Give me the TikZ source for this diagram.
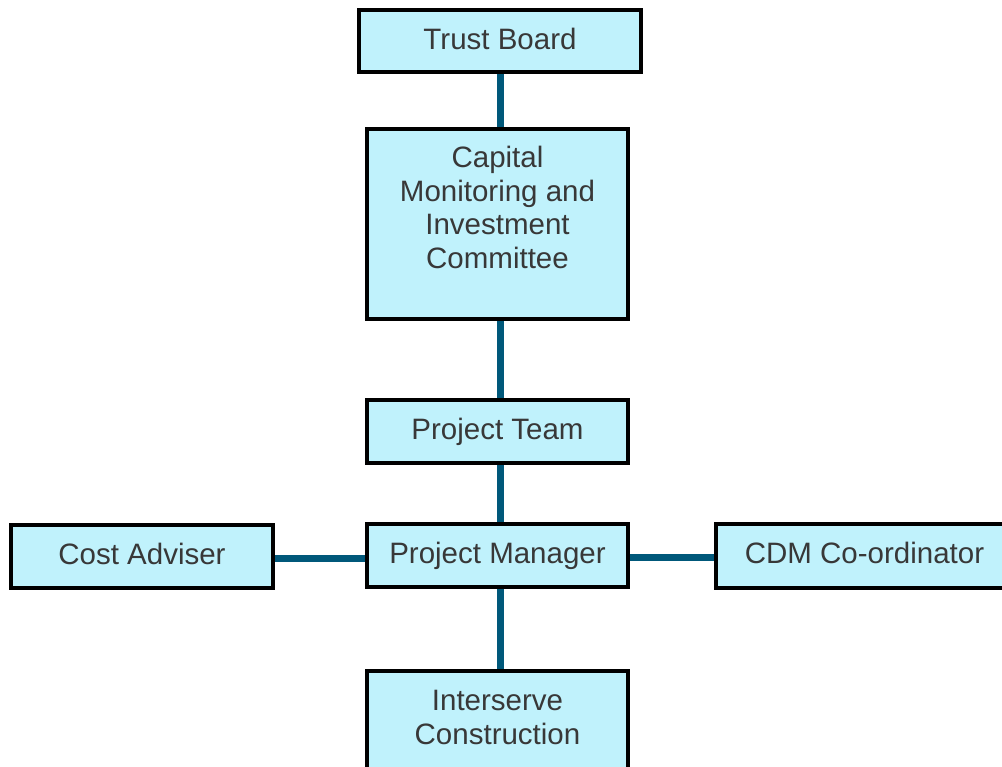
\documentclass[tikz,border=0pt]{standalone}
\usepackage{fontspec}
\setmainfont{Liberation Sans}
\usetikzlibrary{backgrounds}
\definecolor{boxfill}{HTML}{C0F2FC}
\definecolor{linkcol}{HTML}{00587A}
\definecolor{inkcol}{HTML}{383838}
\tikzset{
  orgbox/.style={draw=black, line width=4pt, fill=boxfill, rectangle,
    inner sep=0pt, minimum width=261pt, minimum height=63pt},
  boxtext/.style={text=inkcol, align=center, inner sep=0pt, anchor=base,
    font=\fontsize{29.5pt}{33.5pt}\selectfont},
  link/.style={draw=linkcol, line width=7pt}
}
\begin{document}
\begin{tikzpicture}[x=1pt, y=-1pt]
  \useasboundingbox (0,0) rectangle (1002,767);
  \clip (0,0) rectangle (1002,767);

  % boxes (path coordinates, y grows downwards)
  \node[orgbox, minimum width=282pt, minimum height=62pt] (tb) at (500,41) {};
  \node[orgbox, minimum height=190pt] (cmic) at (497.5,224) {};
  \node[orgbox] (pt) at (497.5,431.5) {};
  \node[orgbox] (pm) at (497.5,555.5) {};
  \node[orgbox, minimum width=262pt] (ca) at (142,556.5) {};
  \node[orgbox, minimum width=297pt, minimum height=64pt] (cdm) at (864.5,556) {};
  \node[orgbox, minimum height=190pt] (ic) at (497.5,766) {};

  % labels; the base anchor of a multi-line label sits on its last line
  \node[boxtext] (tb-t) at ([yshift=-41.5pt]tb.north) {Trust Board};
  \node[boxtext, font=\fontsize{29.5pt}{33.5pt}\selectfont] (cmic-t)
    at ([yshift=-141.5pt]cmic.north) {Capital\\Monitoring and\\Investment\\Committee};
  \node[boxtext] (pt-t) at ([yshift=-41.5pt]pt.north) {Project Team};
  \node[boxtext] (pm-t) at ([yshift=-41.5pt]pm.north) {Project Manager};
  \node[boxtext] (ca-t) at ([yshift=-41.5pt]ca.north) {Cost Adviser};
  \node[boxtext] (cdm-t) at ([yshift=-41.5pt]cdm.north) {CDM Co-ordinator};
  \node[boxtext] (ic-t) at ([yshift=-75pt]ic.north) {Interserve\\Construction};

  % connectors behind the boxes
  \begin{scope}[on background layer]
    \draw[link] (tb.south) -- (tb.south |- cmic.north);
    \draw[link] ([xshift=2.5pt]cmic.south) -- ([xshift=2.5pt]pt.north);
    \draw[link] ([xshift=2.5pt]pt.south) -- ([xshift=2.5pt]pm.north);
    \draw[link] ([xshift=3pt]pm.south) -- ([xshift=3pt]ic.north);
    \draw[link] ([yshift=-1.5pt]ca.east) -- ([yshift=-1.5pt]ca.east -| pm.west);
    \draw[link] ([yshift=-2pt]pm.east) -- ([yshift=-2pt]pm.east -| cdm.west);
  \end{scope}
\end{tikzpicture}
\end{document}
